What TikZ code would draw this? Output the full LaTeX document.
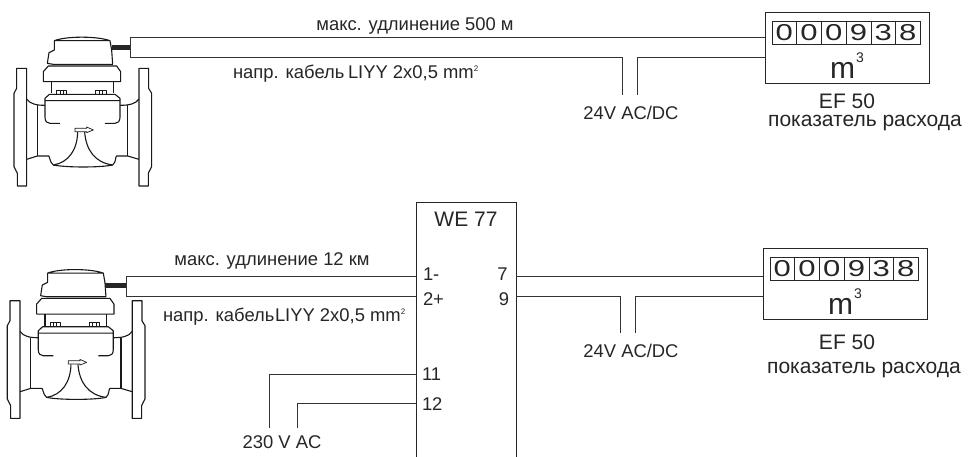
\documentclass[tikz,border=0pt]{standalone}
\usepackage{fontspec}
\setmainfont{Liberation Sans}
\newfontfamily\widedigits[FakeStretch=1.35]{Liberation Sans}
\tikzset{
  x=1pt,y=-1pt,
  ln/.style={draw=black!90,line width=1.1pt},
  wire/.style={draw=black!80,line width=0.9pt},
  box/.style={draw=black!85,line width=0.9pt,inner sep=0,outer sep=0,fill=white},
  txt/.style={inner sep=0,outer sep=0,font=\fontsize{18.4}{20}\selectfont,text=black!85},
  big/.style={inner sep=0,outer sep=0,font=\fontsize{21}{23}\selectfont,text=black!85},
  cell/.style={draw=black!85,line width=0.6pt,minimum width=24.7pt,minimum height=23pt,inner sep=0,outer sep=0,font=\fontsize{23}{24}\widedigits,text=black!85},
}
\newcommand{\watermeter}[2]{%
\begin{scope}[shift={(#1,#2)},x=0.3333pt,y=-0.3333pt,line join=round]
 % flanges
 \draw[ln] (50,115)--(80,115)--(80,468)--(52,468)--(52,430)--(42,410)--(42,190)--(50,175)--cycle;
 \draw[ln] (417,115)--(446,115)--(446,175)--(455,190)--(455,410)--(445,430)--(445,468)--(417,468)--cycle;
 % head
 \draw[ln] (163,32) .. controls (200,18) and (290,18) .. (330,32) -- (163,32)--(163,60)--(147,68)--(142,100)--(160,103)--(338,103)--(335,60)--(330,32);
 \draw[ln] (130,125)--(145,108)--(350,108)--(362,125)--(362,155)--(130,155)--cycle;
 \draw[ln] (155,155)--(155,190) (340,155)--(340,190);
 \draw[ln,line width=0.6pt] (170,181) rectangle (200,192) (180,181)--(180,192) (190,181)--(190,192);
 \draw[ln,line width=0.6pt] (287,181) rectangle (318,192) (297,181)--(297,192) (308,181)--(308,192);
 % body
 \draw[ln] (135,212)--(135,205)--(148,193)--(345,193)--(360,205)--(360,212)--cycle;
 \draw[ln] (135,212)--(135,262) .. controls (135,275) and (142,280) .. (150,280)--(180,280);
 \draw[ln] (360,212)--(360,262) .. controls (360,275) and (353,280) .. (345,280)--(315,280);
 % pipe
 \draw[ln] (80,207) .. controls (90,222) and (110,226) .. (135,226);
 \draw[ln] (417,207) .. controls (407,222) and (387,226) .. (360,226);
 \draw[ln] (112,226)--(112,378) (383,226)--(383,378);
 \draw[ln] (80,388)--(112,378)--(146,378) .. controls (150,380) and (148,395) .. (160,405) .. controls (200,413) and (300,413) .. (338,405) .. controls (350,395) and (345,380) .. (350,378)--(383,378)--(417,388);
 % bell
 \draw[ln] (233,306) .. controls (232,360) and (205,398) .. (160,405);
 \draw[ln] (254,306) .. controls (258,360) and (285,398) .. (338,405);
 % arrow
 \draw[ln,line width=0.7pt,fill=white] (225,295)--(260,295)--(260,291)--(280,300)--(260,308)--(260,305)--(225,305)--cycle;
\end{scope}}
\newcommand{\counterbox}[3]{%
 \node[box,minimum width=164pt,minimum height=71.5pt,anchor=north west] (#3) at (#1,#2) {};
 \foreach \d/\v [count=\i from 0] in {0/a,0/b,0/c,9/d,3/e,8/f}
   \node[cell,anchor=north west] (#3\v) at ({#1+7+24.7*\i},{#2+9}) {\d};
 \node[inner sep=0,outer sep=0,font=\fontsize{30}{32}\selectfont,text=black!85,anchor=base] (#3u) at ({#1+77.5},{#2+66}) {m};
 \node[inner sep=0,outer sep=0,font=\fontsize{14}{16}\selectfont,text=black!85,anchor=base] (#3e) at ({#1+95},{#2+50}) {3};
}
\newcommand{\cablespec}{LIYY 2x0,5 mm\raisebox{7pt}{\fontsize{8}{9}\selectfont 2}}
\begin{document}
\begin{tikzpicture}
\useasboundingbox (0,0) rectangle (968,456);
\fill[white] (0,0) rectangle (968,456);
% ---- upper ----
\watermeter{0}{30}
\counterbox{765}{12}{mA}
\coordinate (a0) at (130,37.5);
\coordinate (a1) at (130,57.3);
\coordinate (a2) at (622,57.3);
\coordinate (a3) at (622,95);
\coordinate (a4) at (637,95);
\coordinate (a5) at (637,57.3);
\coordinate (a6) at (112,47);
\coordinate (a7) at (130,47);
\draw[line width=5pt,draw=black!85] (a6)--(a7);
\draw[wire] (a0)--(a0-|mA.west) (a1)--(a2)--(a3) (a4)--(a5)--(a5-|mA.west);
\draw[wire] (a0)--(a1);
\node[txt,anchor=base] (t1) at (415,30) {макс. удлинение 500 м};
\node[txt,anchor=base west] (t2) at (233,78) {напр. кабель};
\node[txt,anchor=base west] (t3) at (348,78) {\cablespec};
\node[txt,anchor=base] (t4) at (631,119) {24V AC/DC};
\node[big,anchor=base] (t5) at (847,108) {EF 50};
\node[big,anchor=base] (t6) at (865,126) {показатель расхода};
% ---- lower ----
\watermeter{-6.7}{262.4}
\node[draw=black!85,line width=0.9pt,inner sep=0,outer sep=0,minimum width=100pt,minimum height=270pt,anchor=north west] (we) at (416,202) {};
\counterbox{763}{248}{mB}
\coordinate (b0) at (126,276);
\coordinate (b1) at (126,296);
\coordinate (b2) at (620,296);
\coordinate (b3) at (620,333);
\coordinate (b4) at (635,333);
\coordinate (b5) at (635,296);
\coordinate (b6) at (105,285.7);
\coordinate (b7) at (126,285.7);
\coordinate (c0) at (269,428);
\coordinate (c1) at (269,374);
\coordinate (c2) at (297,428);
\coordinate (c3) at (297,403);
\draw[line width=5pt,draw=black!85] (b6)--(b7);
\draw[wire] (b0)--(b0-|we.west) (b1)--(b1-|we.west) (b0)--(b1);
\draw[wire] (we.east|-b2)--(b2)--(b3) (b4)--(b5)--(b5-|mB.west);
\draw[wire] (we.east|-b0)--(mB.west|-b0);
\draw[wire] (c0)--(c1)--(c1-|we.west) (c2)--(c3)--(c3-|we.west);
\node[big,anchor=base] (t7) at (466,226) {WE 77};
\node[txt,anchor=base] (t8) at (272,265) {макс. удлинение 12 км};
\node[txt,anchor=base west] (t9) at (163,321.5) {напр. кабель};
\node[txt,anchor=base west] (t10) at (275,321.5) {\cablespec};
\node[txt,anchor=base west] (p1) at (423,280) {1-};
\node[txt,anchor=base west] (p2) at (423,305) {2+};
\node[txt,anchor=base west] (p3) at (422,380) {11};
\node[txt,anchor=base west] (p4) at (422,410) {12};
\node[txt,anchor=base east] (p5) at (507.5,280) {7};
\node[txt,anchor=base east] (p6) at (509,305) {9};
\node[txt,anchor=base] (t11) at (282,448) {230 V AC};
\node[txt,anchor=base] (t12) at (631,357) {24V AC/DC};
\node[big,anchor=base] (t13) at (847,349) {EF 50};
\node[big,anchor=base] (t14) at (864,373) {показатель расхода};
\end{tikzpicture}
\end{document}
